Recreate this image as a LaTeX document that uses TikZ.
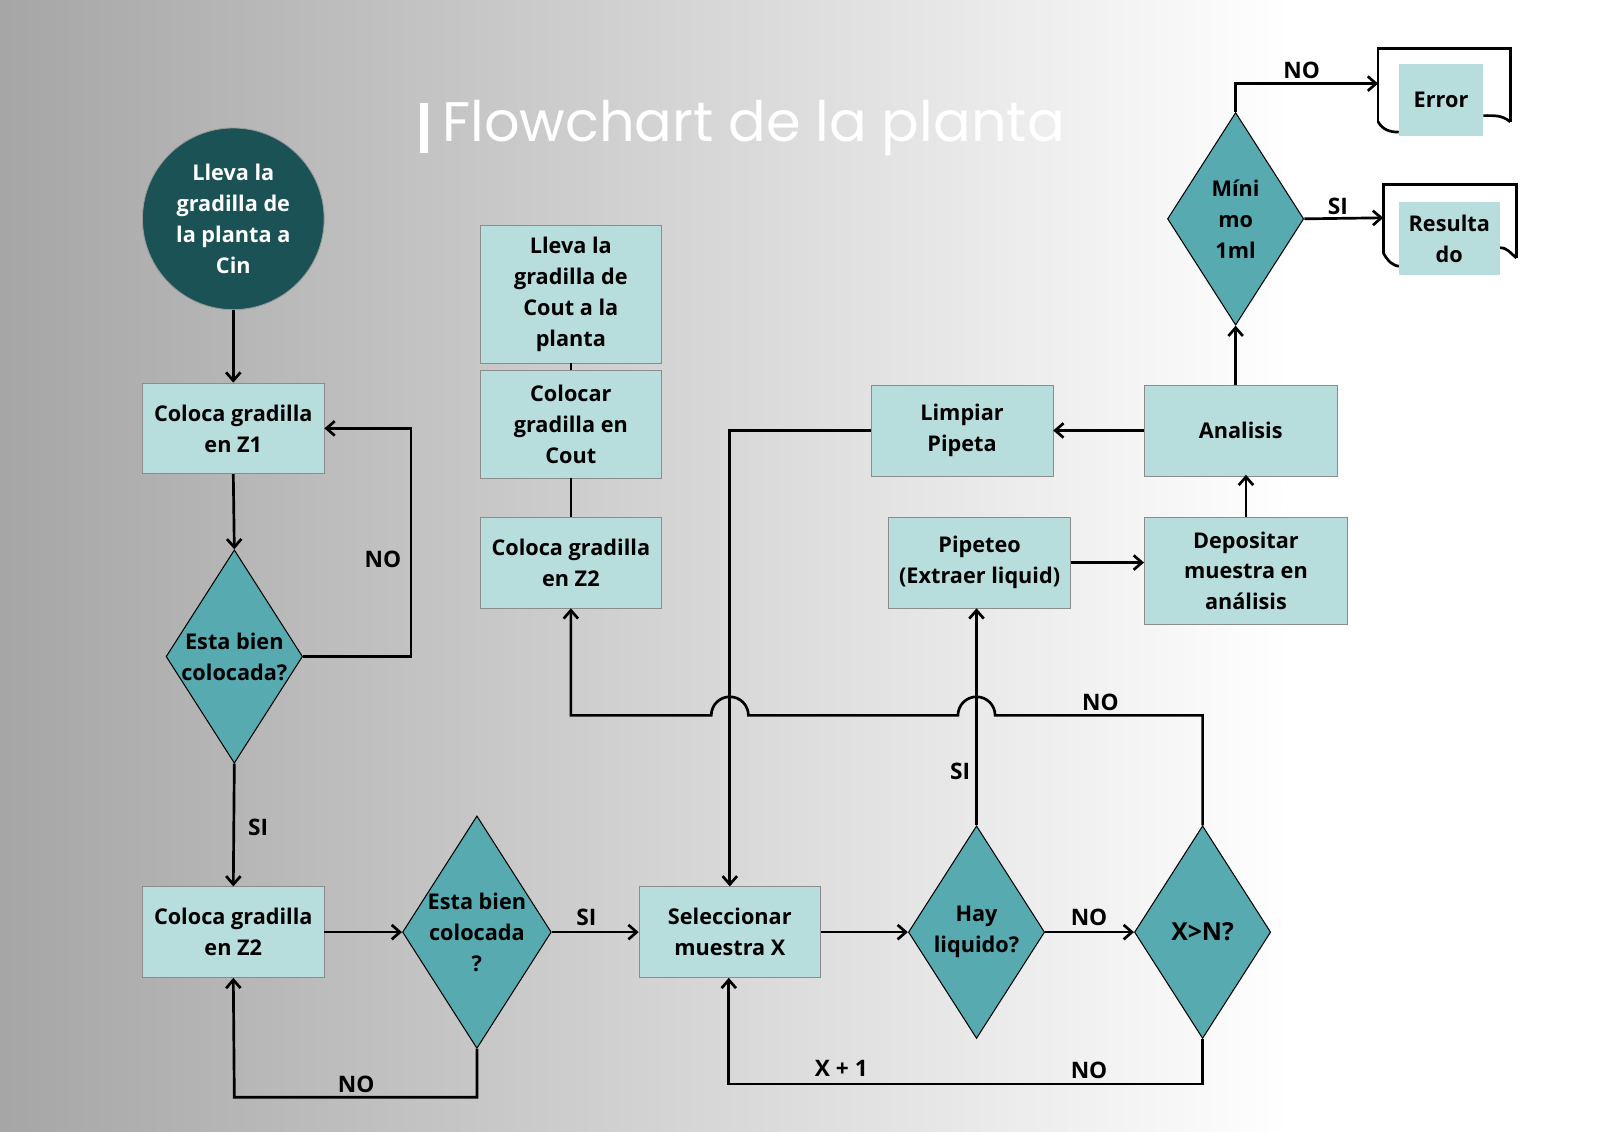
\documentclass[tikz,border=0pt]{standalone}
\usepackage{fontspec}
\setmainfont{Open Sans}
\newfontfamily\titlefont{Poppins}
\usetikzlibrary{shapes.geometric,arrows.meta}
\definecolor{boxc}{HTML}{B7DEDD}
\definecolor{diac}{HTML}{56AAB0}
\definecolor{darkc}{HTML}{1A5256}
\begin{document}
\begin{tikzpicture}[x=0.5pt,y=-0.5pt,
  every node/.style={font=\fontsize{10.5}{15}\selectfont\bfseries, align=center, inner sep=0pt},
  box/.style={draw=black!45, line width=0.3pt, fill=boxc, minimum width=88pt, minimum height=44pt},
  dia/.style={diamond, draw=black, fill=diac, line width=0.5pt, minimum width=66pt, minimum height=103pt, aspect=0.64},
  ln/.style={line width=1.3pt},
  ar/.style={ln, -{Straight Barb[length=4pt,width=7pt]}},
  lab/.style={font=\fontsize{11}{13}\selectfont\bfseries}]
\fill[white] (0,0) rectangle (1550,1096);
\shade[left color=black!35, right color=white] (0,0) rectangle (1250,1096);
\useasboundingbox (0,0) rectangle (1550,1096);
% title
\fill[white] (407,100) rectangle (415,148);
\node[anchor=west, text=white, font=\titlefont\fontsize{27}{30}\selectfont] (title) at (428,124) {Flowchart de la planta};
% nodes
\node[circle, fill=darkc, draw=black!40, minimum size=88pt, text=white] (c) at (226,212) {Lleva la\\gradilla de\\la planta a\\Cin};
\node[box] (z1) at (226,415) {Coloca gradilla\\en Z1};
\node[dia] (d1) at (227,636) {Esta bien\\colocada?};
\node[box] (z2) at (226,903) {Coloca gradilla\\en Z2};
\node[dia] (d2) at (462,903) {Esta bien\\colocada\\?};
\node[box] (sel) at (707,903) {Seleccionar\\muestra X};
\node[dia] (hay) at (946,903) {Hay\\liquido?};
\node[dia] (xn) at (1165,903) {\fontsize{12}{15}\selectfont X>N?};
\node[box] (pip) at (949,545) {Pipeteo\\(Extraer liquid)};
\node[box, minimum width=98.5pt, minimum height=52pt] (dep) at (1207,553) {Depositar\\muestra en\\análisis};
\node[box, minimum width=93.5pt] (ana) at (1202,417) {Analisis};
\node[box] (lim) at (932,417) {Limpiar\\Pipeta};
\node[dia] (min) at (1197,212) {Míni\\mo\\1ml};
\node[box, minimum height=66.5pt] (cout) at (553,285) {Lleva la\\gradilla de\\Cout a la\\planta};
\node[box, minimum height=52pt] (cc) at (553,411) {Colocar\\gradilla en\\Cout};
\node[box] (zm) at (553,545) {Coloca gradilla\\en Z2};
% documents
\draw[ln] (1335,118) -- (1335,47) -- (1463,47) -- (1463,118);
\draw[ln] (1335,118) to[out=-60,in=180] (1355,128);
\draw[ln] (1437,112) to[out=0,in=140] (1463,118);
\node[fill=boxc, minimum width=41pt, minimum height=35pt] (err) at (1396,97) {Error};
\draw[ln] (1340,245) -- (1340,179) -- (1469,179) -- (1469,250);
\draw[ln] (1340,245) to[out=-60,in=180] (1357,258);
\draw[ln] (1453,240) to[out=0,in=140] (1469,250);
\node[fill=boxc, minimum width=49pt, minimum height=35.5pt] (res) at (1404,231) {Resulta\\do};
% connectors
\draw[ar] (c.south) -- (z1.north);
\draw[ar] (z1.south) -- (d1.north);
\draw[ar] (d1.east) -- (398,636) -- (398,415) -- (z1.east);
\node[lab] (l1) at (371,542) {NO};
\draw[ar] (d1.south) -- (z2.north);
\node[lab] (l2) at (250,802) {SI};
\draw[ar] (z2.east) -- (d2.west);
\draw[ar] (d2.south) -- (462,1063) -- (227,1063) -- (z2.south);
\node[lab] (l3) at (345,1050) {NO};
\draw[ar] (d2.east) -- (sel.west);
\node[lab] (l4) at (568,889) {SI};
\draw[ar] (sel.east) -- (hay.west);
\draw[ar] (hay.east) -- (xn.west);
\node[lab] (l5) at (1055,889) {NO};
\draw[ar] (hay.north) -- (hay.north |- pip.south);
\node[lab] (l6) at (930,747) {SI};
\draw[ar] (xn.north) -- (1165,693) -- (964,693) arc(0:-180:18) -- (725,693) arc(0:-180:18) -- (553,693) -- (zm.south);
\node[lab] (l7) at (1066,680) {NO};
\draw[ar] (xn.south) -- (1165,1050) -- (706,1050) -- (sel.south -| 706,0);
\node[lab] (l8) at (815,1035) {X + 1};
\node[lab] (l9) at (1055,1037) {NO};
\draw[ar] (lim.west) -- (707,417) -- (sel.north);
\draw[ar] (pip.east) -- (pip.east -| dep.west);
\draw[ar] (dep.north -| 1207,0) -- (1207,460);
\draw[ar] (ana.west) -- (lim.east);
\draw[ar] (1197,373) -- (min.south);
\draw[ar] (min.north) -- (1197,81) -- (1335,81);
\node[lab] (l10) at (1261,68) {NO};
\draw[ar] (min.east) -- (1340,211);
\node[lab] (l11) at (1296,200) {SI};
\draw[ln] (cout.south) -- (cc.north);
\draw[ln] (cc.south) -- (zm.north);
\end{tikzpicture}
\end{document}
